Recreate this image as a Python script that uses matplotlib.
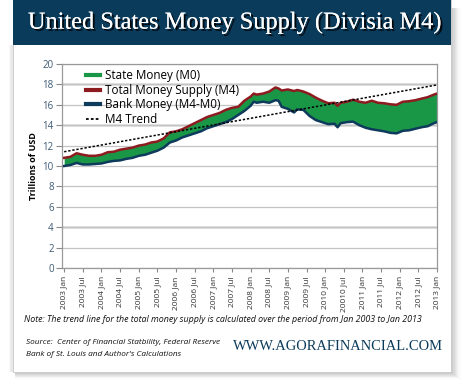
import matplotlib
matplotlib.use("Agg")
import matplotlib.pyplot as plt
import matplotlib.patheffects as pe
from matplotlib.patches import Rectangle
from matplotlib.lines import Line2D

# month index (0 = Jan 2003)
months = [0, 2, 4, 6, 8, 10, 12, 14, 16, 18, 20, 22, 24, 26, 28, 30, 32, 34, 36, 38,
          40, 42, 44, 46, 48, 50, 52, 54, 56, 58, 60, 61, 62, 64, 66, 68, 69, 70, 72, 74,
          75, 77, 79, 81, 83, 85, 87, 88, 89, 91, 93, 95, 97, 99, 101, 103, 105, 107, 109,
          111, 113, 115, 117, 119, 120]
total_m4 = [10.8, 10.9, 11.25, 11.1, 11.0, 11.0, 11.1, 11.35, 11.4, 11.6, 11.7, 11.8, 12.0, 12.1,
            12.3, 12.4, 12.7, 13.3, 13.4, 13.6, 13.9, 14.2, 14.5, 14.8, 15.0, 15.2, 15.5, 15.7,
            15.8, 16.4, 16.8, 17.1, 17.0, 17.1, 17.3, 17.7, 17.6, 17.4, 17.5, 17.35, 17.45, 17.3,
            17.05, 16.7, 16.4, 16.15, 16.2, 15.9, 16.2, 16.3, 16.5, 16.3, 16.2, 16.4, 16.2, 16.15,
            16.05, 16.0, 16.3, 16.35, 16.45, 16.6, 16.75, 17.0, 17.1]
bank_money = [10.0, 10.1, 10.3, 10.15, 10.15, 10.2, 10.25, 10.4, 10.5, 10.55, 10.7, 10.8, 11.0,
              11.1, 11.3, 11.5, 11.8, 12.3, 12.5, 12.8, 13.0, 13.2, 13.4, 13.7, 13.9, 14.1, 14.3,
              14.6, 15.0, 15.4, 15.9, 16.3, 16.2, 16.3, 16.2, 16.45, 16.4, 15.8, 15.6, 15.25, 15.55,
              15.5, 14.9, 14.5, 14.3, 14.1, 14.15, 13.8, 14.2, 14.3, 14.35, 14.0, 13.75, 13.6, 13.5,
              13.4, 13.25, 13.2, 13.45, 13.5, 13.65, 13.8, 13.9, 14.2, 14.3]
trend_months = [0, 120]
trend_values = [11.4, 17.95]

tick_months = list(range(0, 121, 6))
tick_labels = ["2003 Jan", "2003 Jul", "2004 Jan", "2004 Jul", "2005 Jan", "2005 Jul",
               "2006 Jan", "2006 Jul", "2007 Jan", "2007 Jul", "2008 Jan", "2008 Jul",
               "2009 Jan", "2009 Jul", "2010 Jan", "20010 Jul", "2011 Jan", "2011 Jul",
               "2012 Jan", "2012 Jul", "2013 Jan"]
y_ticks = [0, 2, 4, 6, 8, 10, 12, 14, 16, 18, 20]

title = "United States Money Supply (Divisia M4)"
note = "Note: The trend line for the total money supply is calculated over the period from Jan 2003 to Jan 2013"
source1 = "Source:  Center of Financial Statbility, Federal Reserve"
source2 = "Bank of St. Louis and Author's Calculations"
site = "WWW.AGORAFINANCIAL.COM"

GREEN = "#1a9647"
RED = "#8e1b1f"
BLUE = "#0e3a5c"
HEADER = "#0b3b5b"
TICKCOL = "#3d5a74"

W, H = 470, 391
fig = plt.figure(figsize=(W / 100, H / 100), dpi=100)
fig.patch.set_facecolor("white")


def fx(x):
    return x / W


def fy(y):
    return 1 - y / H


def rect(x0, y0, x1, y1, **kw):
    fig.patches.append(Rectangle((fx(x0), fy(y1)), (x1 - x0) / W, (y1 - y0) / H,
                                 transform=fig.transFigure, **kw))


# soft shadow of the panel (right and bottom)
for i in range(10):
    a = 0.055 * (1 - i / 10)
    rect(13 + 2, 8, 451 + i * 1.2, 372 + i * 0.9, facecolor="black", alpha=a, edgecolor="none", zorder=0)
for i in range(3):
    rect(13 - 2 - i, 45, 13, 372, facecolor="black", alpha=0.03, edgecolor="none", zorder=0)
# white panel
rect(13, 0, 451, 372, facecolor="white", edgecolor="#c8c8c8", lw=0.6, zorder=1)
# header
rect(13, 0, 451, 45, facecolor=HEADER, edgecolor="none", zorder=2)


def fit_text(t, target_w):
    r = fig.canvas.get_renderer()
    w = t.get_window_extent(renderer=r).width
    t.set_fontsize(t.get_fontsize() * target_w / w)


t_title = fig.text(fx(235), fy(23), title, color="white", fontsize=16, family="Liberation Serif",
                   ha="center", va="center", zorder=3,
                   path_effects=[pe.withSimplePatchShadow(offset=(1.5, -1.5), shadow_rgbFace="black", alpha=0.85),
                                 pe.Normal()])
fit_text(t_title, 414)

ax = fig.add_axes([fx(62), fy(268), (437 - 62) / W, (268 - 64) / H], zorder=5)
ax.set_xlim(-0.7, 120)
ax.set_ylim(0, 20)

ax.fill_between(months, bank_money, total_m4, color=GREEN, lw=0, zorder=2)
ax.plot(months, total_m4, color=RED, lw=1.8, zorder=3, solid_joinstyle="round")
ax.plot(months, bank_money, color=BLUE, lw=1.8, zorder=3, solid_joinstyle="round")
ax.plot(trend_months, trend_values, color="black", lw=1.1, ls=(0, (1.5, 1.2)), zorder=4)

ax.set_yticks(y_ticks)
ax.set_yticklabels([str(v) for v in y_ticks])
ax.set_xticks(tick_months)
ax.set_xticklabels(tick_labels, rotation=90)
ax.tick_params(axis="y", colors="#888888", labelcolor=TICKCOL, labelsize=7, length=4, width=0.8, pad=2)
ax.tick_params(axis="x", colors="#888888", labelcolor="#333333", labelsize=6, length=3, width=0.8, pad=3)
for lab in ax.get_xticklabels() + ax.get_yticklabels():
    lab.set_family("Open Sans")
ax.grid(axis="y", color="#c4c4c4", lw=0.9, zorder=0)
for v in [4, 14, 18]:
    ax.axhline(v, color="#e2e2e2", lw=2.2, zorder=0.5)
for s in ax.spines.values():
    s.set_color("#999999")
    s.set_linewidth(0.9)
ax.set_axisbelow(True)

ax.set_ylabel("Trillions of USD", fontsize=6.5, fontweight="bold", family="Open Sans", labelpad=3)

handles = [Line2D([], [], color=GREEN, lw=3),
           Line2D([], [], color=RED, lw=3),
           Line2D([], [], color=BLUE, lw=3),
           Line2D([], [], color="black", lw=1.3, ls=(0, (1.5, 1.2)))]
labels = ["State Money (M0)", "Total Money Supply (M4)", "Bank Money (M4-M0)", "M4 Trend"]
leg = ax.legend(handles, labels, loc="upper left", bbox_to_anchor=(0.035, 1.025), frameon=False,
                handlelength=1.2, handletextpad=0.45, labelspacing=0.12,
                prop={"family": "Open Sans", "size": 8.4})

t_note = fig.text(fx(24), fy(319), note, fontsize=6.3, style="italic", family="Open Sans",
                  va="center", ha="left", color="#111111")
fit_text(t_note, 401)
t_s1 = fig.text(fx(26), fy(342), source1, fontsize=5.6, style="italic", family="Open Sans",
                va="center", ha="left", color="#111111")
fit_text(t_s1, 194)
t_s2 = fig.text(fx(26), fy(354), source2, fontsize=t_s1.get_fontsize(), style="italic", family="Open Sans",
                va="center", ha="left", color="#111111")
t_site = fig.text(fx(443), fy(347), site, fontsize=11, family="Liberation Serif", color=HEADER,
                  va="center", ha="right")
fit_text(t_site, 210)

fig.savefig("out.png", dpi=100)
